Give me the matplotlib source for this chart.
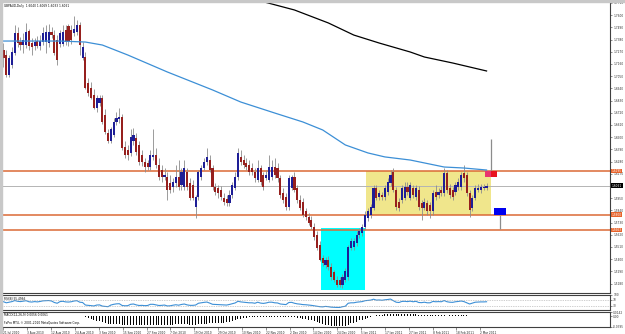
import numpy as np
import matplotlib.pyplot as plt
from matplotlib.patches import Rectangle

# daily GBPAUD candles, 21 Jul 2010 - 3 Mar 2011
opens = [1.729, 1.724, 1.706, 1.715, 1.726, 1.744, 1.736, 1.733, 1.733, 1.746,
         1.735, 1.732, 1.737, 1.732, 1.736, 1.736, 1.735, 1.745, 1.742, 1.738,
         1.734, 1.734, 1.747, 1.750, 1.747, 1.744, 1.745, 1.751, 1.721, 1.722,
         1.699, 1.694, 1.688, 1.676, 1.681, 1.685, 1.670, 1.654, 1.647, 1.652,
         1.664, 1.666, 1.668, 1.641, 1.638, 1.636, 1.647, 1.649, 1.643, 1.634,
         1.628, 1.627, 1.623, 1.632, 1.634, 1.625, 1.620, 1.614, 1.614, 1.609,
         1.605, 1.609, 1.614, 1.607, 1.605, 1.619, 1.609, 1.607, 1.587, 1.596,
         1.614, 1.622, 1.628, 1.629, 1.622, 1.605, 1.604, 1.602, 1.595, 1.594,
         1.591, 1.598, 1.604, 1.614, 1.632, 1.629, 1.627, 1.625, 1.622, 1.619,
         1.611, 1.622, 1.616, 1.613, 1.611, 1.614, 1.623, 1.622, 1.613, 1.600,
         1.596, 1.587, 1.604, 1.614, 1.604, 1.593, 1.592, 1.583, 1.578, 1.575,
         1.569, 1.562, 1.553, 1.541, 1.535, 1.539, 1.533, 1.528, 1.521, 1.521,
         1.517, 1.521, 1.524, 1.550, 1.551, 1.555, 1.562, 1.564, 1.569, 1.577,
         1.580, 1.586, 1.604, 1.596, 1.598, 1.596, 1.601, 1.609, 1.619, 1.602,
         1.592, 1.593, 1.595, 1.605, 1.595, 1.604, 1.596, 1.602, 1.591, 1.586,
         1.591, 1.589, 1.583, 1.601, 1.598, 1.602, 1.600, 1.618, 1.604, 1.602,
         1.601, 1.605, 1.605, 1.618, 1.616, 1.600, 1.586, 1.595, 1.602, 1.602,
         1.604, 1.604]
highs = [1.735, 1.729, 1.724, 1.731, 1.751, 1.749, 1.740, 1.744, 1.753, 1.748,
         1.739, 1.739, 1.741, 1.742, 1.749, 1.751, 1.752, 1.749, 1.747, 1.742,
         1.747, 1.751, 1.751, 1.752, 1.751, 1.759, 1.756, 1.754, 1.736, 1.727,
         1.703, 1.700, 1.693, 1.688, 1.688, 1.688, 1.675, 1.657, 1.659, 1.667,
         1.673, 1.676, 1.671, 1.647, 1.643, 1.657, 1.658, 1.654, 1.647, 1.638,
         1.631, 1.629, 1.638, 1.657, 1.640, 1.631, 1.625, 1.622, 1.619, 1.616,
         1.613, 1.625, 1.629, 1.622, 1.629, 1.622, 1.613, 1.611, 1.598, 1.620,
         1.625, 1.631, 1.640, 1.634, 1.625, 1.609, 1.607, 1.606, 1.600, 1.598,
         1.602, 1.610, 1.619, 1.640, 1.638, 1.634, 1.631, 1.629, 1.627, 1.622,
         1.629, 1.625, 1.619, 1.620, 1.634, 1.629, 1.631, 1.627, 1.616, 1.604,
         1.600, 1.616, 1.616, 1.619, 1.607, 1.598, 1.595, 1.586, 1.582, 1.579,
         1.573, 1.565, 1.556, 1.544, 1.542, 1.543, 1.537, 1.530, 1.525, 1.524,
         1.527, 1.532, 1.553, 1.559, 1.559, 1.565, 1.568, 1.572, 1.583, 1.586,
         1.590, 1.607, 1.607, 1.602, 1.601, 1.607, 1.613, 1.620, 1.622, 1.605,
         1.595, 1.607, 1.610, 1.610, 1.610, 1.607, 1.607, 1.606, 1.593, 1.595,
         1.593, 1.592, 1.602, 1.607, 1.604, 1.606, 1.622, 1.620, 1.608, 1.605,
         1.610, 1.613, 1.619, 1.625, 1.619, 1.602, 1.598, 1.607, 1.608, 1.608,
         1.608, 1.609]
lows = [1.713, 1.704, 1.704, 1.712, 1.724, 1.731, 1.729, 1.726, 1.730, 1.729,
        1.724, 1.729, 1.730, 1.729, 1.733, 1.726, 1.731, 1.739, 1.724, 1.715,
        1.731, 1.732, 1.733, 1.732, 1.734, 1.741, 1.742, 1.724, 1.720, 1.693,
        1.687, 1.684, 1.675, 1.673, 1.678, 1.662, 1.653, 1.645, 1.645, 1.650,
        1.661, 1.663, 1.638, 1.631, 1.629, 1.633, 1.643, 1.634, 1.625, 1.624,
        1.619, 1.620, 1.620, 1.629, 1.622, 1.611, 1.610, 1.611, 1.593, 1.600,
        1.601, 1.605, 1.602, 1.602, 1.602, 1.602, 1.593, 1.593, 1.577, 1.593,
        1.611, 1.620, 1.625, 1.619, 1.602, 1.598, 1.595, 1.593, 1.589, 1.588,
        1.588, 1.595, 1.602, 1.611, 1.625, 1.622, 1.620, 1.616, 1.616, 1.610,
        1.610, 1.607, 1.602, 1.611, 1.610, 1.611, 1.613, 1.610, 1.595, 1.591,
        1.584, 1.584, 1.602, 1.601, 1.591, 1.584, 1.578, 1.575, 1.571, 1.567,
        1.557, 1.548, 1.538, 1.534, 1.532, 1.530, 1.521, 1.519, 1.515, 1.515,
        1.514, 1.519, 1.521, 1.548, 1.548, 1.552, 1.559, 1.561, 1.566, 1.574,
        1.577, 1.584, 1.593, 1.593, 1.593, 1.593, 1.598, 1.606, 1.601, 1.584,
        1.583, 1.591, 1.593, 1.598, 1.593, 1.595, 1.593, 1.584, 1.575, 1.584,
        1.580, 1.577, 1.580, 1.593, 1.595, 1.597, 1.597, 1.600, 1.595, 1.593,
        1.598, 1.602, 1.602, 1.610, 1.597, 1.578, 1.583, 1.593, 1.601, 1.600,
        1.602, 1.602]
closes = [1.721, 1.706, 1.721, 1.727, 1.744, 1.735, 1.733, 1.738, 1.745, 1.732,
          1.731, 1.736, 1.732, 1.737, 1.744, 1.745, 1.745, 1.742, 1.726, 1.720,
          1.744, 1.745, 1.736, 1.736, 1.738, 1.748, 1.751, 1.733, 1.731, 1.694,
          1.690, 1.685, 1.676, 1.685, 1.685, 1.664, 1.655, 1.647, 1.657, 1.664,
          1.667, 1.668, 1.640, 1.634, 1.634, 1.650, 1.652, 1.637, 1.628, 1.628,
          1.623, 1.623, 1.634, 1.634, 1.625, 1.614, 1.614, 1.616, 1.602, 1.602,
          1.610, 1.614, 1.605, 1.619, 1.622, 1.605, 1.595, 1.595, 1.596, 1.619,
          1.622, 1.628, 1.632, 1.620, 1.605, 1.601, 1.600, 1.596, 1.592, 1.591,
          1.598, 1.607, 1.614, 1.636, 1.628, 1.625, 1.623, 1.619, 1.619, 1.613,
          1.622, 1.610, 1.605, 1.616, 1.623, 1.623, 1.616, 1.613, 1.598, 1.593,
          1.587, 1.613, 1.614, 1.602, 1.593, 1.586, 1.580, 1.578, 1.573, 1.569,
          1.560, 1.550, 1.539, 1.537, 1.539, 1.533, 1.524, 1.521, 1.517, 1.517,
          1.524, 1.529, 1.551, 1.556, 1.556, 1.562, 1.565, 1.569, 1.580, 1.583,
          1.587, 1.604, 1.595, 1.600, 1.596, 1.604, 1.610, 1.616, 1.602, 1.587,
          1.586, 1.604, 1.605, 1.601, 1.607, 1.598, 1.604, 1.587, 1.586, 1.592,
          1.583, 1.583, 1.600, 1.596, 1.601, 1.600, 1.618, 1.602, 1.598, 1.596,
          1.607, 1.610, 1.616, 1.613, 1.600, 1.584, 1.595, 1.604, 1.604, 1.605,
          1.605, 1.606]

# moving averages, read at a few bars
ma_blue_bar = [0, 10, 20, 29, 35, 44, 58, 74, 84, 96, 106, 113, 121, 129, 135, 144, 156, 163, 171]
ma_blue = [1.7367, 1.7367, 1.7367, 1.7358, 1.7331, 1.7241, 1.7088, 1.6926, 1.6817, 1.6718,
           1.6637, 1.6565, 1.6430, 1.6358, 1.6322, 1.6294, 1.6231, 1.6222, 1.6204]
ma_black_bar = [84, 91, 103, 115, 124, 133, 144, 149, 159, 171]
ma_black = [1.7780, 1.7728, 1.7647, 1.7530, 1.7421, 1.7349, 1.7268, 1.7223, 1.7169, 1.7097]

rsi = [55, 48, 52, 56, 63, 58, 56, 59, 62, 55, 53, 56, 54, 57, 61, 62, 63, 60, 50, 45,
       56, 58, 54, 53, 55, 60, 62, 52, 50, 33, 31, 29, 27, 33, 34, 26, 24, 22, 33, 38,
       41, 42, 30, 28, 29, 38, 40, 34, 30, 31, 29, 30, 38, 38, 34, 30, 31, 33, 27, 28,
       32, 35, 32, 37, 40, 34, 31, 31, 33, 45, 48, 51, 53, 46, 38, 37, 36, 35, 34, 33,
       37, 42, 47, 58, 54, 52, 50, 48, 48, 45, 52, 46, 44, 47, 52, 52, 48, 47, 40, 38,
       36, 50, 51, 45, 41, 39, 36, 35, 33, 31, 28, 25, 22, 21, 24, 22, 19, 18, 17, 17,
       22, 25, 45, 48, 48, 52, 54, 56, 62, 64, 66, 72, 66, 67, 65, 68, 70, 73, 62, 52,
       50, 57, 58, 56, 59, 55, 58, 50, 49, 52, 48, 48, 57, 55, 56, 55, 63, 55, 52, 51,
       55, 57, 60, 56, 48, 40, 46, 52, 53, 54, 54, 55]

macd = [0.002, 0.001, 0.001, 0.001, 0.002, 0.002, 0.002, 0.002, 0.002, 0.002,
        0.002, 0.002, 0.002, 0.002, 0.002, 0.002, 0.002, 0.002, 0.001, 0.000,
        0.000, 0.001, 0.001, 0.001, 0.001, 0.001, 0.002, 0.001, 0.000, -0.003,
        -0.006, -0.010, -0.014, -0.017, -0.019, -0.022, -0.025, -0.028, -0.029, -0.029,
        -0.029, -0.029, -0.031, -0.032, -0.033, -0.032, -0.031, -0.031, -0.032, -0.033,
        -0.033, -0.033, -0.032, -0.031, -0.031, -0.032, -0.032, -0.031, -0.032, -0.032,
        -0.031, -0.030, -0.030, -0.030, -0.030, -0.030, -0.031, -0.031, -0.031, -0.030,
        -0.030, -0.029, -0.028, -0.027, -0.027, -0.027, -0.026, -0.025, -0.024, -0.022,
        -0.020, -0.017, -0.014, -0.011, -0.009, -0.007, -0.006, -0.005, -0.004, -0.004,
        -0.003, -0.003, -0.003, -0.002, -0.002, -0.002, -0.002, -0.002, -0.003, -0.004,
        -0.005, -0.004, -0.004, -0.005, -0.006, -0.008, -0.010, -0.012, -0.014, -0.016,
        -0.019, -0.022, -0.026, -0.029, -0.031, -0.033, -0.035, -0.036, -0.037, -0.037,
        -0.036, -0.035, -0.031, -0.027, -0.024, -0.020, -0.016, -0.013, -0.009, -0.006,
        -0.003, 0.001, 0.003, 0.004, 0.005, 0.007, 0.008, 0.009, 0.009, 0.008,
        0.007, 0.007, 0.007, 0.006, 0.006, 0.006, 0.006, 0.005, 0.004, 0.004,
        0.003, 0.003, 0.003, 0.003, 0.003, 0.003, 0.004, 0.003, 0.003, 0.003,
        0.003, 0.003, 0.003, 0.003, 0.003, 0.002, 0.002, 0.002, 0.002, 0.002,
        0.002, 0.002]

date_labels = ["21 Jul 2010", "3 Aug 2010", "12 Aug 2010", "24 Aug 2010", "3 Sep 2010",
               "15 Sep 2010", "27 Sep 2010", "7 Oct 2010", "19 Oct 2010", "29 Oct 2010",
               "10 Nov 2010", "22 Nov 2010", "2 Dec 2010", "14 Dec 2010", "24 Dec 2010",
               "5 Jan 2011", "17 Jan 2011", "27 Jan 2011", "8 Feb 2011", "18 Feb 2011",
               "2 Mar 2011"]
price_ticks = [1.7710, 1.7600, 1.7490, 1.7380, 1.7270, 1.7160, 1.7050, 1.6940, 1.6830,
               1.6720, 1.6610, 1.6500, 1.6390, 1.6280, 1.6170, 1.5950, 1.5840,
               1.5730, 1.5620, 1.5510, 1.5400, 1.5290, 1.5180]
levels = [1.6195, 1.5800, 1.5663]
bid = 1.6061

# range box, spike-low box and the two projection boxes
range_box = (128.2, 172.6, 1.5801, 1.6195)
low_box = (112.3, 128.1, 1.512, 1.568)
sell_box = (170.4, 174.7, 1.6141, 1.6195, 1.6484)
buy_box = (173.6, 177.9, 1.5801, 1.5864, 1.5672)

W, H = 625, 334
fig = plt.figure(figsize=(W / 100, H / 100), dpi=100)
fig.patch.set_facecolor("white")


def box(l, t, r, b):
    return [l / W, 1 - b / H, (r - l) / W, (b - t) / H]


ax = fig.add_axes(box(2, 2, 610, 293))
rsi_ax = fig.add_axes(box(2, 295, 610, 310))
macd_ax = fig.add_axes(box(2, 312, 610, 327))

XL = (-0.53, 214.7)
small = 2.05
bars = np.arange(len(closes))
o = np.array(opens)
c = np.array(closes)

# ---- main price panel ----
x0, x1, y0, y1 = range_box
ax.add_patch(Rectangle((x0, y0), x1 - x0, y1 - y0, color="#F0E68C", zorder=1, lw=0))
x0, x1, y0, y1 = low_box
ax.add_patch(Rectangle((x0, y0), x1 - x0, y1 - y0, color="#00FFFF", zorder=1, lw=0))

for lv in levels:
    ax.axhline(lv, color="#DB6A36", lw=1.1, zorder=2)
ax.axhline(bid, color="#B4B4B4", lw=0.7, zorder=2)

ax.plot(ma_blue_bar, ma_blue, color="#3C8FD6", lw=0.9, zorder=5)
ax.plot(ma_black_bar, ma_black, color="black", lw=0.9, zorder=5)

ax.vlines(bars, lows, highs, color="#8C8C8C", lw=0.6, zorder=3)
body = c - o
body = np.where(np.abs(body) < 0.0009, np.where(body >= 0, 0.0009, -0.0009), body)
colors = np.where(c >= o, "#1E1E96", "#96201E")
ax.bar(bars, body, bottom=o, width=0.75, color=colors, lw=0, zorder=4)

# projection boxes at the right edge
sx0, sx1, sy0, sy1, stop = sell_box
ax.vlines((sx0 + sx1) / 2, sy1, stop, color="#8C8C8C", lw=0.9, zorder=3)
ax.add_patch(Rectangle((sx0, sy0), range_box[1] - sx0, sy1 - sy0, color="#E8346E", lw=0, zorder=4))
ax.add_patch(Rectangle((range_box[1], sy0), sx1 - range_box[1], sy1 - sy0, color="#E8141E", lw=0, zorder=4))
bx0, bx1, by0, by1, bbot = buy_box
ax.vlines((bx0 + bx1) / 2, bbot, by0, color="#8C8C8C", lw=0.9, zorder=3)
ax.add_patch(Rectangle((bx0, by0), bx1 - bx0, by1 - by0, color="#0000F0", lw=0, zorder=4))

ax.set_xlim(*XL)
ax.set_ylim(1.5095, 1.7719)
ax.set_xticks([])
ax.yaxis.tick_right()
ax.set_yticks(price_ticks)
ax.set_yticklabels([f"{t:.4f}" for t in price_ticks], fontsize=small)
ax.tick_params(axis="y", length=1.5, width=0.5, pad=0.8, colors="#606060", labelcolor="#303030")

# price tags on the scale
for lv in levels:
    ax.text(1.003, lv, f"{lv:.4f}", transform=ax.get_yaxis_transform(), fontsize=small,
            color="white", va="center", ha="left",
            bbox=dict(boxstyle="square,pad=0.15", fc="#E8632B", ec="none"), clip_on=False)
ax.text(1.003, bid, f"{bid:.4f}", transform=ax.get_yaxis_transform(), fontsize=small,
        color="white", va="center", ha="left",
        bbox=dict(boxstyle="square,pad=0.15", fc="black", ec="none"), clip_on=False)

ax.text(0.003, 0.992, "GBPAUD,Daily  1.6040 1.6069 1.6033 1.6061", transform=ax.transAxes,
        fontsize=small, va="top", ha="left")

# ---- RSI panel ----
rsi_ax.plot(bars, rsi, color="#3C8FD6", lw=0.8)
for lv in (70, 30):
    rsi_ax.axhline(lv, color="#A0A0A0", lw=0.5, ls=(0, (1, 1.5)))
rsi_ax.set_xlim(*XL)
rsi_ax.set_ylim(0, 100)
rsi_ax.set_xticks([])
rsi_ax.yaxis.tick_right()
rsi_ax.set_yticks([100, 70, 30])
rsi_ax.set_yticklabels(["100", "70", "30"], fontsize=small)
rsi_ax.tick_params(axis="y", length=1.5, width=0.5, pad=0.8, colors="#606060", labelcolor="#303030")
rsi_ax.text(0.003, 0.9, "RSI(8) 55.4966", transform=rsi_ax.transAxes, fontsize=small,
            va="top", ha="left")

# ---- MACD panel ----
macd_ax.bar(bars, macd, width=0.35, color="black", lw=0)
macd_ax.set_xlim(*XL)
macd_ax.set_ylim(-0.040, 0.015)
macd_ax.yaxis.tick_right()
macd_ax.set_yticks([0.0142, 0.0, -0.0395])
macd_ax.set_yticklabels(["0.0142", "0.00", "-0.0395"], fontsize=small)
macd_ax.tick_params(axis="y", length=1.5, width=0.5, pad=0.8, colors="#606060", labelcolor="#303030")
macd_ax.text(0.003, 0.9, "MACD(12,26,9) 0.0056 0.0061", transform=macd_ax.transAxes,
             fontsize=small, va="top", ha="left")
macd_ax.text(0.003, 0.38, "FxPro MT4, \u00a9 2001-2010 MetaQuotes Software Corp.",
             transform=macd_ax.transAxes, fontsize=small, va="top", ha="left")

tick_pos = np.arange(len(date_labels)) * 8.44
macd_ax.set_xticks(tick_pos)
macd_ax.set_xticklabels(date_labels, fontsize=small, ha="left")
macd_ax.tick_params(axis="x", length=2, width=0.5, pad=1, colors="#606060", labelcolor="#202020")

for a in (ax, rsi_ax, macd_ax):
    for s in a.spines.values():
        s.set_color("#404040")
        s.set_linewidth(0.8)
    a.spines["left"].set_visible(False)
ax.spines["top"].set_visible(False)

# window frame of the terminal
fig.patches.append(Rectangle((0, 1 - 2 / H), 1, 2 / H, transform=fig.transFigure, color="#C8C8C8", zorder=10))
fig.patches.append(Rectangle((0, 0), 2 / W, 1, transform=fig.transFigure, color="#C8C8C8", zorder=10))

fig.savefig("out.png", dpi=100)
